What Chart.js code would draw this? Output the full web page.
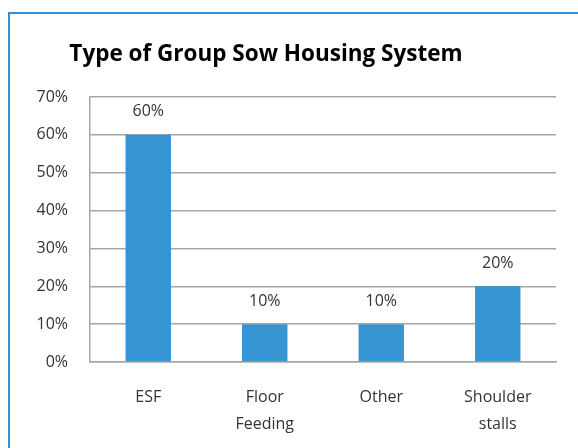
<!DOCTYPE html>
<html>
<head>
<meta charset="utf-8">
<script src="https://cdn.jsdelivr.net/npm/chart.js@4/dist/chart.umd.min.js"></script>
<style>
  html, body { margin: 0; padding: 0; background: #fff; }
  #wrap { width: 578px; height: 448px; position: relative; }
</style>
</head>
<body>
<div id="wrap"><canvas id="chart" width="578" height="448"></canvas></div>
<script>
var categories = ['ESF', ['Floor', 'Feeding'], 'Other', ['Shoulder', 'stalls']];
var shares = [60, 10, 10, 20];
var yTicks = [0, 10, 20, 30, 40, 50, 60, 70];
var chartTitle = 'Type of Group Sow Housing System';

var FONT = '"Open Sans", Lato, sans-serif';
var BLUE = '#3794d3';
var TEXT = '#333333';

// blue frame + title, drawn by hand so the title sits left of centre like the original
var framePlugin = {
  id: 'frame',
  beforeDraw: function(c) {
    var ctx = c.ctx;
    ctx.save();
    ctx.fillStyle = '#fff';
    ctx.fillRect(0, 0, c.width, c.height);
    ctx.strokeStyle = '#2b93d6';
    ctx.lineWidth = 2;
    ctx.strokeRect(9, 13, c.width + 20, c.height + 20);
    ctx.fillStyle = '#000';
    ctx.font = 'bold 22.5px ' + FONT;
    ctx.textAlign = 'center';
    ctx.textBaseline = 'alphabetic';
    ctx.fillText(chartTitle, 266, 61);
    ctx.restore();
  }
};

var valueLabels = {
  id: 'valueLabels',
  afterDatasetsDraw: function(c) {
    var ctx = c.ctx;
    var meta = c.getDatasetMeta(0);
    ctx.save();
    ctx.fillStyle = TEXT;
    ctx.font = '16px ' + FONT;
    ctx.textAlign = 'center';
    ctx.textBaseline = 'middle';
    meta.data.forEach(function(bar, i) {
      ctx.fillText(shares[i] + '%', bar.x, bar.y - 23);
    });
    ctx.restore();
  }
};

new Chart(document.getElementById('chart'), {
  type: 'bar',
  data: {
    labels: categories,
    datasets: [{ data: shares, backgroundColor: BLUE, borderWidth: 0,
      barPercentage: 0.39, categoryPercentage: 1 }]
  },
  options: {
    responsive: false, animation: false,
    layout: { padding: { top: 97, right: 22, left: 10, bottom: 0 } },
    plugins: { legend: { display: false }, tooltip: { enabled: false } },
    scales: {
      y: {
        min: 0, max: 70,
        afterFit: function(s) { s.width = 80; },
        afterBuildTicks: function(s) { s.ticks = yTicks.map(function(v) { return { value: v }; }); },
        ticks: { padding: 22, color: TEXT, font: { family: FONT, size: 16 },
          callback: function(v) { return v + '%'; } },
        grid: { color: '#a6a6a6', lineWidth: 1.5, drawTicks: false },
        border: { color: '#a6a6a6', width: 1.5 }
      },
      x: {
        afterFit: function(s) { s.height = 86; },
        ticks: { padding: 22, color: TEXT, maxRotation: 0,
          font: { family: FONT, size: 16, lineHeight: 1.7 } },
        grid: { display: false, drawTicks: false },
        border: { color: '#a6a6a6', width: 1.5 }
      }
    }
  },
  plugins: [framePlugin, valueLabels]
});
</script>
</body>
</html>
